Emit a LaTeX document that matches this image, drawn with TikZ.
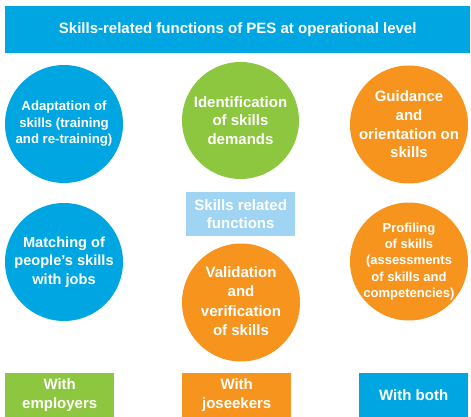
\documentclass[tikz,border=0pt]{standalone}
\usepackage{fontspec}
\setmainfont{Liberation Sans}
\definecolor{pesblue}{HTML}{00A6E2}
\definecolor{pesgreen}{HTML}{8DC63F}
\definecolor{pesorange}{HTML}{F7941D}
\definecolor{peslight}{HTML}{9FD5F2}
\tikzset{
  bubble/.style={circle, inner sep=0pt, minimum size=118pt},
  txt/.style={text=white, align=center, font=\bfseries\fontsize{15}{18.3}\selectfont, inner sep=0pt},
  smalltxt/.style={txt, font=\bfseries\fontsize{13.2}{16.6}\selectfont},
  bar/.style={inner sep=0pt, anchor=north west}
}
\begin{document}
\begin{tikzpicture}[x=1pt,y=-1pt]
\useasboundingbox (0,0) rectangle (471,417);
% title
\node[bar, fill=pesblue, minimum width=465pt, minimum height=47pt] (title) at (5,6) {};
\node[txt] at (title.center) {Skills-related functions of PES at operational level};
% circles
\node[bubble, fill=pesblue] (c1) at (64,124) {};
\node[smalltxt] (t1) at (c1) {Adaptation of\\skills (training\\and re-training)};
\node[bubble, fill=pesgreen, minimum size=117pt] (c2) at (240.5,120.5) {};
\node[txt] (t2) at (c2) {Identification\\of skills\\demands};
\node[bubble, fill=pesorange] (c3) at (409,124.5) {};
\node[txt, font=\bfseries\fontsize{15}{18.7}\selectfont] (t3) at (c3) {Guidance\\and\\orientation on\\skills};
\node[bubble, fill=pesblue] (c4) at (64,262) {};
\node[txt, font=\bfseries\fontsize{14.6}{18.3}\selectfont] (t4) at (c4) {Matching of\\people’s skills\\with jobs};
\node[bubble, fill=pesorange] (c5) at (241,302.5) {};
\node[txt, font=\bfseries\fontsize{15}{19.3}\selectfont] (t5) at ([yshift=1.5pt]c5.center) {Validation\\and\\verification\\of skills};
\node[bubble, fill=pesorange] (c6) at (409,261.5) {};
\node[smalltxt, font=\bfseries\fontsize{13}{16.3}\selectfont] (t6) at (c6) {Profiling\\of skills\\(assessments\\of skills and\\competencies)};
% centre box
\node[bar, fill=peslight, minimum width=109pt, minimum height=44pt] (mid) at (186,192) {};
\node[txt] (tm) at (mid.center) {Skills related\\functions};
% bottom legend
\node[bar, fill=pesgreen, minimum width=109pt, minimum height=44pt] (b1) at (5,373) {};
\node[txt] (tb1) at (b1.center) {With\\employers};
\node[bar, fill=pesorange, minimum width=109pt, minimum height=44pt] (b2) at (182,373) {};
\node[txt] (tb2) at (b2.center) {With\\joseekers};
\node[bar, fill=pesblue, minimum width=109pt, minimum height=44pt] (b3) at (359,373) {};
\node[txt] (tb3) at (b3.center) {With both};
\end{tikzpicture}
\end{document}
